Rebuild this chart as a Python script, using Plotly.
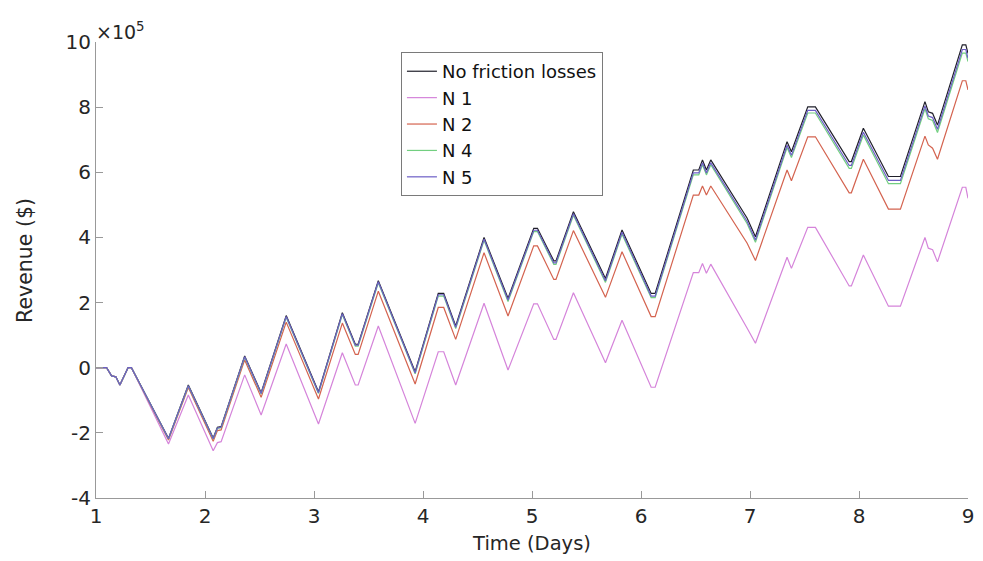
import plotly.graph_objects as go

# Time breakpoints (days) shared by all runs
time_days = [1.0, 1.097, 1.143, 1.182, 1.219, 1.294, 1.325, 1.665, 1.847, 2.075,
             2.114, 2.148, 2.364, 2.515, 2.745, 3.041, 3.26, 3.379, 3.405, 3.59,
             3.928, 4.14, 4.19, 4.30, 4.56, 4.78, 5.016, 5.05, 5.20, 5.22,
             5.38, 5.674, 5.826, 6.093, 6.13, 6.48, 6.53, 6.564, 6.60, 6.64,
             6.974, 7.05, 7.34, 7.38, 7.53, 7.60, 7.91, 7.93, 8.04, 8.27,
             8.38, 8.605, 8.636, 8.675, 8.72, 8.948, 8.98, 9.0]

# Cumulative revenue in units of 1e5 $
rev_no_friction = [0, 0, -0.25, -0.28, -0.53, 0, 0, -2.17, -0.53, -2.16,
                   -1.83, -1.81, 0.36, -0.77, 1.60, -0.74, 1.69, 0.72, 0.72, 2.67,
                   -0.12, 2.28, 2.28, 1.28, 4.00, 2.13, 4.28, 4.28, 3.28, 3.28,
                   4.79, 2.74, 4.23, 2.28, 2.28, 6.07, 6.07, 6.38, 6.07, 6.38,
                   4.59, 4.02, 6.94, 6.63, 8.01, 8.01, 6.33, 6.33, 7.35, 5.87,
                   5.87, 8.17, 7.86, 7.81, 7.45, 9.91, 9.91, 9.65]

rev_n1 = [0, 0, -0.25, -0.28, -0.53, 0, 0, -2.34, -0.84, -2.55,
          -2.30, -2.27, -0.22, -1.45, 0.73, -1.73, 0.46, -0.53, -0.53, 1.28,
          -1.71, 0.49, 0.49, -0.53, 1.98, -0.07, 1.96, 1.96, 0.87, 0.87,
          2.30, 0.15, 1.46, -0.60, -0.60, 2.92, 2.92, 3.20, 2.90, 3.18,
          1.21, 0.75, 3.39, 3.05, 4.31, 4.31, 2.51, 2.51, 3.46, 1.89,
          1.89, 4.00, 3.67, 3.62, 3.25, 5.54, 5.54, 5.20]

rev_n2 = [0, 0, -0.25, -0.28, -0.53, 0, 0, -2.22, -0.61, -2.26,
          -1.93, -1.91, 0.24, -0.91, 1.40, -0.96, 1.37, 0.41, 0.41, 2.35,
          -0.50, 1.85, 1.85, 0.87, 3.53, 1.59, 3.74, 3.74, 2.71, 2.71,
          4.21, 2.16, 3.56, 1.57, 1.57, 5.30, 5.30, 5.58, 5.30, 5.58,
          3.82, 3.29, 6.07, 5.74, 7.09, 7.09, 5.37, 5.37, 6.40, 4.87,
          4.87, 7.11, 6.84, 6.74, 6.40, 8.81, 8.81, 8.53]

rev_n4 = [0, 0, -0.25, -0.28, -0.53, 0, 0, -2.19, -0.56, -2.19,
          -1.86, -1.84, 0.32, -0.81, 1.55, -0.79, 1.63, 0.66, 0.66, 2.61,
          -0.19, 2.20, 2.20, 1.20, 3.91, 2.03, 4.18, 4.18, 3.17, 3.17,
          4.68, 2.62, 4.10, 2.15, 2.15, 5.92, 5.92, 6.23, 5.92, 6.23,
          4.42, 3.85, 6.76, 6.45, 7.82, 7.82, 6.12, 6.12, 7.14, 5.65,
          5.65, 7.95, 7.64, 7.59, 7.22, 9.66, 9.66, 9.40]

rev_n5 = [0, 0, -0.25, -0.28, -0.53, 0, 0, -2.18, -0.55, -2.18,
          -1.85, -1.83, 0.34, -0.79, 1.57, -0.77, 1.66, 0.69, 0.69, 2.64,
          -0.16, 2.24, 2.24, 1.24, 3.95, 2.08, 4.22, 4.22, 3.22, 3.22,
          4.73, 2.67, 4.16, 2.20, 2.20, 5.98, 5.98, 6.29, 5.98, 6.29,
          4.49, 3.92, 6.83, 6.52, 7.90, 7.90, 6.21, 6.21, 7.23, 5.75,
          5.75, 8.04, 7.73, 7.68, 7.32, 9.77, 9.77, 9.50]

series_names = ["No friction losses", "N 1", "N 2", "N 4", "N 5"]
series_values = [rev_no_friction, rev_n1, rev_n2, rev_n4, rev_n5]
series_colors = ["#1f1f2a", "#d584da", "#d4634f", "#72cf80", "#6c5ec6"]

x_ticks = [1, 2, 3, 4, 5, 6, 7, 8, 9]
y_ticks = [-4, -2, 0, 2, 4, 6, 8, 10]

FONT = "DejaVu Sans, Liberation Sans, Arial, sans-serif"
TXT = "#262626"
AXC = "#999999"

fig = go.Figure()
for name, vals, col in zip(series_names, series_values, series_colors):
    fig.add_trace(go.Scatter(x=time_days, y=vals, mode="lines", name=name,
                             line=dict(color=col, width=1.2)))

fig.update_layout(
    width=983, height=561,
    margin=dict(l=96, r=9, t=42, b=63),
    paper_bgcolor="white", plot_bgcolor="white",
    font=dict(family=FONT, color=TXT),
    showlegend=True,
    legend=dict(x=0.3497, y=0.978, xanchor="left", yanchor="top",
                bgcolor="white", bordercolor="#7a7a7a", borderwidth=1,
                font=dict(family=FONT, size=18, color="#111111"),
                itemwidth=30, tracegroupgap=0),
    xaxis=dict(range=[1, 9], tickvals=x_ticks, ticktext=[str(v) for v in x_ticks],
               showgrid=False, zeroline=False, showline=True, linecolor=AXC,
               linewidth=1, ticks="inside", ticklen=7, tickcolor=AXC,
               tickfont=dict(size=20, color=TXT),
               title=dict(text="Time (Days)", font=dict(size=19.5, color=TXT),
                          standoff=9)),
    yaxis=dict(range=[-4, 10], tickvals=y_ticks, ticktext=[str(v) for v in y_ticks],
               showgrid=False, zeroline=False, showline=True, linecolor=AXC,
               linewidth=1, ticks="inside", ticklen=7, tickcolor=AXC,
               tickfont=dict(size=20, color=TXT)),
)

# Y-axis title, placed a little above the axis centre
fig.add_annotation(x=-0.0814, y=0.52, xref="paper", yref="paper",
                   xanchor="center", yanchor="middle", textangle=-90,
                   text="Revenue ($)", showarrow=False,
                   font=dict(family=FONT, size=20.5, color=TXT))

# Exponent marker for the y axis
fig.add_annotation(x=0, y=1, xref="paper", yref="paper", xanchor="left", yanchor="bottom",
                   text="×10<sup>5</sup>", showarrow=False, xshift=-2, yshift=-3,
                   font=dict(family=FONT, size=19, color=TXT))

fig.write_html("out.html")
